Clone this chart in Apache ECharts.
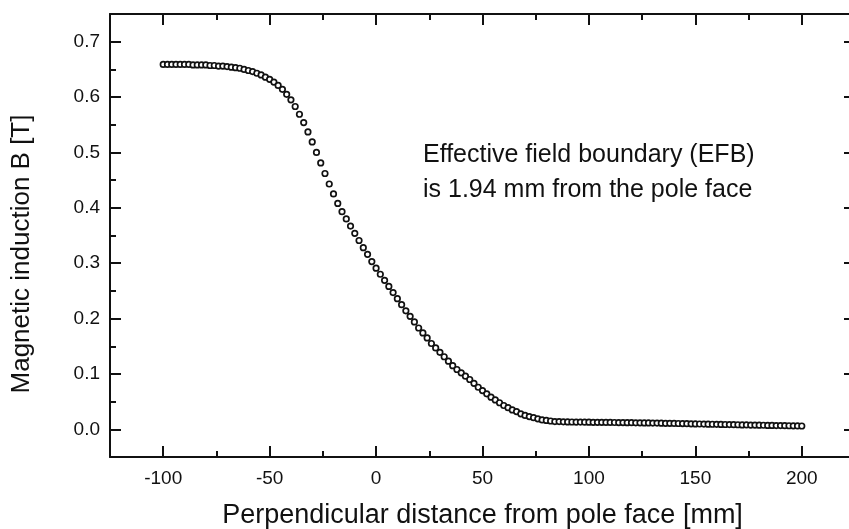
<!DOCTYPE html>
<html>
<head>
<meta charset="utf-8">
<script src="https://cdn.jsdelivr.net/npm/echarts@6/dist/echarts.min.js"></script>
<style>html,body{margin:0;padding:0;background:#fff}#c{width:849px;height:529px}</style>
</head>
<body>
<div id="c"></div>
<script>
// Position along the axis [mm]
const distanceMm = [
  -100,-98,-96,-94,-92,-90,-88,-86,-84,-82,-80,-78,-76,-74,-72,-70,-68,-66,-64,-62,
  -60,-58,-56,-54,-52,-50,-48,-46,-44,-42,-40,-38,-36,-34,-32,-30,-28,-26,-24,-22,
  -20,-18,-16,-14,-12,-10,-8,-6,-4,-2,0,2,4,6,8,10,12,14,16,18,
  20,22,24,26,28,30,32,34,36,38,40,42,44,46,48,50,52,54,56,58,
  60,62,64,66,68,70,72,74,76,78,80,82,84,86,88,90,92,94,96,98,
  100,102,104,106,108,110,112,114,116,118,120,122,124,126,128,130,132,134,136,138,
  140,142,144,146,148,150,152,154,156,158,160,162,164,166,168,170,172,174,176,178,
  180,182,184,186,188,190,192,194,196,198,200
];
// Magnetic induction B [T]
const inductionT = [
  0.659,0.659,0.659,0.659,0.659,0.659,0.659,0.658,0.658,0.658,0.658,0.657,0.657,0.656,0.656,0.655,0.654,0.653,0.652,0.650,
  0.648,0.646,0.643,0.640,0.636,0.632,0.627,0.621,0.614,0.605,0.595,0.583,0.569,0.554,0.537,0.519,0.500,0.481,0.462,0.443,
  0.425,0.408,0.393,0.380,0.367,0.354,0.341,0.328,0.316,0.303,0.291,0.280,0.269,0.258,0.247,0.236,0.225,0.214,0.204,0.194,
  0.183,0.174,0.165,0.155,0.147,0.139,0.131,0.123,0.115,0.108,0.102,0.096,0.090,0.083,0.076,0.070,0.064,0.058,0.053,0.048,
  0.043,0.039,0.035,0.032,0.028,0.025,0.023,0.021,0.019,0.017,0.016,0.015,0.014,0.014,0.0135,0.0133,0.0132,0.0131,0.0130,0.0129,
  0.0128,0.0127,0.0126,0.0126,0.0125,0.0124,0.0123,0.0122,0.0121,0.0120,0.0119,0.0118,0.0117,0.0116,0.0115,0.0113,0.0112,0.0111,0.0109,0.0108,
  0.0106,0.0105,0.0103,0.0101,0.0100,0.0098,0.0096,0.0095,0.0093,0.0091,0.0090,0.0088,0.0087,0.0085,0.0084,0.0082,0.0080,0.0079,0.0077,0.0076,
  0.0074,0.0073,0.0071,0.0070,0.0068,0.0067,0.0066,0.0064,0.0063,0.0062,0.0060
];
const xMajorTicks = [-100,-50,0,50,100,150,200];
const xMinorTicks = [-75,-25,25,75,125,175];
const yMajorTicks = [0,0.1,0.2,0.3,0.4,0.5,0.6,0.7];
const yMinorTicks = [0.05,0.15,0.25,0.35,0.45,0.55,0.65];
const xTitle = 'Perpendicular distance from pole face [mm]';
const yTitle = 'Magnetic induction B [T]';
const noteText = 'Effective field boundary (EFB)\nis 1.94 mm from the pole face';

const FONT = '"Liberation Sans", Arial, Helvetica, sans-serif';
const INK = '#111';
const XMIN = -125, XMAX = 225, YMIN = -0.05, YMAX = 0.75;

function xAx(pos, ticks, len, showLine, showLabel) {
  return {
    type: 'value', position: pos, min: XMIN, max: XMAX,
    axisLine: {show: showLine, onZero: false, lineStyle: {color: INK, width: 2}},
    axisTick: {show: true, inside: true, length: len, customValues: ticks, lineStyle: {color: INK, width: 2}},
    axisLabel: showLabel ? {show: true, customValues: ticks, margin: 12, color: INK, fontFamily: FONT, fontSize: 19} : {show: false},
    splitLine: {show: false}
  };
}
function yAx(pos, ticks, len, showLine, showLabel) {
  return {
    type: 'value', position: pos, min: YMIN, max: YMAX,
    axisLine: {show: showLine, onZero: false, lineStyle: {color: INK, width: 2}},
    axisTick: {show: true, inside: true, length: len, customValues: ticks, lineStyle: {color: INK, width: 2}},
    axisLabel: showLabel ? {show: true, customValues: ticks, margin: 10, color: INK, fontFamily: FONT, fontSize: 19,
      formatter: v => v.toFixed(1)} : {show: false},
    splitLine: {show: false}
  };
}

const xMain = xAx('bottom', xMajorTicks, 11, true, true);
xMain.name = xTitle; xMain.nameLocation = 'middle'; xMain.nameGap = 45;
xMain.nameTextStyle = {fontFamily: FONT, fontSize: 27, color: INK};

const chart = echarts.init(document.getElementById('c'), null, {renderer: 'canvas'});
chart.setOption({
  animation: false,
  backgroundColor: '#fff',
  grid: {left: 110, top: 14, width: 745, height: 443, containLabel: false, outerBoundsMode: 'none'},
  xAxis: [
    xMain,
    xAx('bottom', xMinorTicks, 6, false, false),
    xAx('top', xMajorTicks, 11, true, false),
    xAx('top', xMinorTicks, 6, false, false)
  ],
  yAxis: [
    yAx('left', yMajorTicks, 11, true, true),
    yAx('left', yMinorTicks, 6, false, false),
    yAx('right', yMajorTicks, 11, true, false),
    yAx('right', yMinorTicks, 6, false, false)
  ],
  graphic: [{
    type: 'text', left: 423, top: 138,
    style: {text: noteText, font: '25px ' + FONT, lineHeight: 35, fill: INK}
  }, {
    type: 'text', x: 22, y: 254, rotation: Math.PI / 2,
    style: {text: yTitle, font: '26px ' + FONT, fill: INK, align: 'center', verticalAlign: 'middle'}
  }],
  series: [{
    type: 'scatter', xAxisIndex: 0, yAxisIndex: 0,
    symbol: 'circle', symbolSize: 5.5,
    itemStyle: {color: '#fff', borderColor: INK, borderWidth: 1.7, opacity: 1},
    data: distanceMm.map((x, i) => [x, inductionT[i]])
  }]
});
</script>
</body>
</html>
